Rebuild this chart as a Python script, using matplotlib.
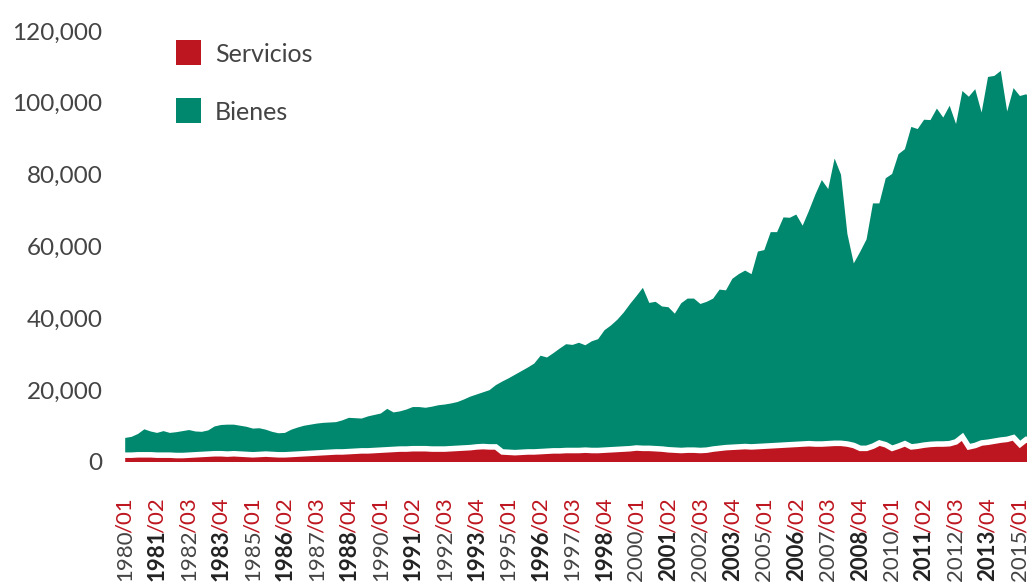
import matplotlib
matplotlib.use("Agg")
import matplotlib.pyplot as plt
from matplotlib.patches import Rectangle
from matplotlib.ticker import FuncFormatter, MultipleLocator

plt.rcParams["font.family"] = ["Lato", "DejaVu Sans"]

RED = "#BE1620"
GREEN = "#00886E"
TEXT = "#444444"

# quarterly series, thousands, starting 1980/01
servicios = [
    1.9, 1.9, 2.0, 2.0, 2.0, 1.9, 1.9, 1.9, 1.8, 1.8,
    1.9, 2.0, 2.1, 2.2, 2.3, 2.3, 2.2, 2.3, 2.2, 2.1,
    2.0, 2.1, 2.2, 2.1, 2.0, 2.0, 2.1, 2.2, 2.3, 2.4,
    2.5, 2.6, 2.7, 2.8, 2.8, 2.9, 3.0, 3.1, 3.1, 3.2,
    3.3, 3.4, 3.5, 3.6, 3.6, 3.7, 3.7, 3.7, 3.6, 3.6,
    3.6, 3.7, 3.8, 3.9, 4.0, 4.2, 4.3, 4.2, 4.2, 2.8,
    2.7, 2.6, 2.7, 2.8, 2.8, 2.9, 3.0, 3.1, 3.1, 3.2,
    3.2, 3.2, 3.3, 3.2, 3.2, 3.3, 3.4, 3.5, 3.6, 3.7,
    3.9, 3.8, 3.8, 3.7, 3.6, 3.4, 3.3, 3.2, 3.3, 3.3,
    3.2, 3.3, 3.6, 3.8, 4.0, 4.1, 4.2, 4.3, 4.2, 4.3,
    4.4, 4.5, 4.6, 4.7, 4.8, 4.9, 5.0, 5.1, 5.0, 5.0,
    5.1, 5.2, 5.2, 5.0, 4.6, 3.8, 3.8, 4.4, 5.3, 4.8,
    3.8, 4.4, 5.1, 4.2, 4.4, 4.7, 4.9, 5.0, 5.0, 5.1,
    5.6, 7.0, 4.2, 4.6, 5.3, 5.5, 5.8, 6.1, 6.3, 6.8,
    4.9, 6.3, 6.0,
]
bienes = [
    4.8, 5.1, 5.8, 7.1, 6.5, 6.2, 6.7, 6.2, 6.5, 6.8,
    7.0, 6.5, 6.3, 6.6, 7.6, 8.0, 8.2, 8.1, 7.9, 7.7,
    7.3, 7.3, 6.8, 6.3, 6.0, 6.1, 6.9, 7.4, 7.8, 8.0,
    8.2, 8.3, 8.3, 8.3, 8.8, 9.4, 9.2, 9.0, 9.6, 9.9,
    10.2, 11.4, 10.3, 10.5, 11.0, 11.6, 11.6, 11.4, 11.8, 12.2,
    12.4, 12.6, 12.9, 13.5, 14.2, 14.6, 15.1, 15.8, 17.2, 19.6,
    20.6, 21.7, 22.6, 23.5, 24.6, 26.7, 26.1, 27.2, 28.5, 29.6,
    29.4, 30.0, 29.2, 30.4, 31.0, 33.4, 34.6, 36.1, 38.0, 40.3,
    42.3, 44.7, 40.5, 40.9, 39.7, 39.7, 38.0, 41.0, 42.2, 42.2,
    40.8, 41.3, 41.9, 44.2, 43.8, 46.9, 48.1, 49.0, 48.1, 54.3,
    54.6, 59.5, 59.4, 63.4, 63.2, 64.0, 60.8, 64.9, 69.5, 73.5,
    70.9, 79.3, 74.8, 58.5, 50.7, 54.7, 58.2, 67.6, 66.7, 74.2,
    76.4, 81.3, 82.0, 89.1, 88.3, 90.6, 90.3, 93.4, 90.9, 94.1,
    88.5, 96.3, 97.5, 99.2, 92.0, 101.7, 101.7, 102.8, 91.3, 97.3,
    97.0, 96.1, 93.0,
]
first_year = 1980
label_step = 5

quarters = list(range(len(servicios)))

W, H = 1027, 583
fig = plt.figure(figsize=(W / 100, H / 100), dpi=100)
ax = fig.add_axes([122 / W, (H - 462) / H, (W - 122) / W, (462 - 31) / H])

ax.stackplot(quarters, servicios, bienes, colors=[RED, GREEN], linewidth=0)
ax.plot(quarters, servicios, color="white", lw=4, solid_joinstyle="miter")

ax.set_xlim(-0.5, 141.1)
ax.set_ylim(0, 120)
ax.yaxis.set_major_locator(MultipleLocator(20))
ax.yaxis.set_major_formatter(FuncFormatter(lambda v, _: f"{v * 1000:,.0f}"))
ax.tick_params(axis="y", length=0, pad=14, labelsize=17.5, labelcolor=TEXT)
ax.set_xticks([])
for side in ax.spines.values():
    side.set_visible(False)

# two-colour rotated quarter labels: year dark, "/0q" red
for i in quarters[::label_step]:
    year = first_year + i // 4
    q = i % 4 + 1
    suffix = ax.annotate(f"/{q:02d}", xy=(i, 0), xycoords=("data", "axes fraction"),
                         xytext=(0, -25.5), textcoords="offset points",
                         rotation=90, ha="center", va="top",
                         fontsize=16, color=RED, annotation_clip=False)
    ax.annotate(str(year), xy=(0.5, 0), xycoords=suffix,
                xytext=(0, 2.5), textcoords="offset points",
                rotation=90, ha="center", va="top", fontsize=16,
                color="#222222" if q % 2 == 0 else TEXT,
                fontweight="bold" if q % 2 == 0 else "normal")

# legend
for k, (name, col) in enumerate([("Servicios", RED), ("Bienes", GREEN)]):
    top = 40 + k * 58
    fig.add_artist(Rectangle((176 / W, (H - top - 25) / H), 25 / W, 25 / H,
                             transform=fig.transFigure, color=col, lw=0))
    fig.text(215 / W, (H - top - 22) / H, name, fontsize=18, color=TEXT,
             va="baseline", ha="left")

fig.savefig("out.png", dpi=100)
